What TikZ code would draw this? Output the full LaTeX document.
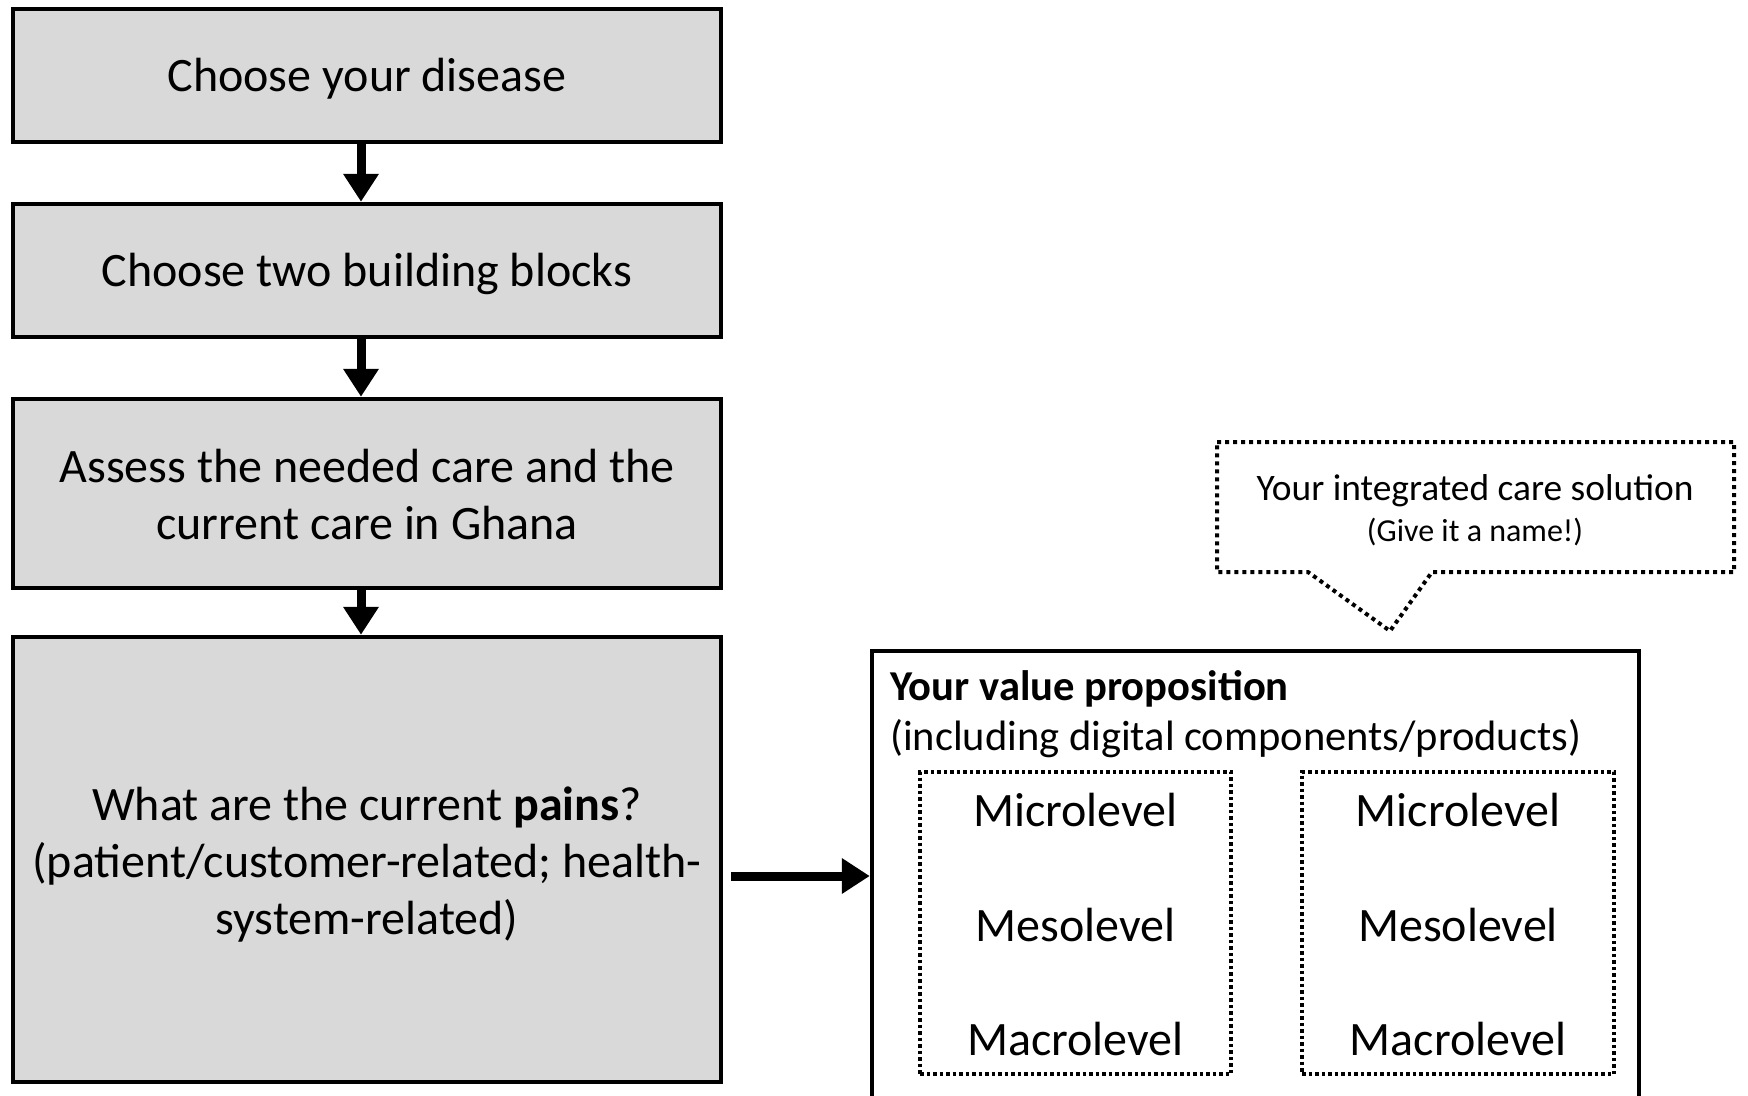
\documentclass[tikz,border=0pt]{standalone}
\usepackage{fontspec}
\setmainfont{Carlito}
\usetikzlibrary{arrows.meta}
\definecolor{boxgray}{HTML}{D9D9D9}
\tikzset{
  stepbox/.style={draw=black, line width=4.5pt, fill=boxgray, inner sep=0pt, minimum width=708pt},
  steptext/.style={inner sep=0pt, align=center, font=\fontsize{48}{57}\selectfont},
  bigarrow/.style={line width=9pt, -{Triangle[length=28pt,width=34pt]}},
  dotbox/.style={draw=black, line width=4pt, dash pattern=on 3.5pt off 3pt, inner sep=0pt},
  lvl/.style={font=\fontsize{48}{57}\selectfont, inner sep=0pt},
}
\begin{document}
\begin{tikzpicture}[x=1pt,y=-1pt]
\clip (0,0) rectangle (1748,1095);
\fill[white] (0,0) rectangle (1748,1095);
% left column boxes
\node[stepbox, minimum height=133pt] (b1) at (367,75.5) {};
\node[stepbox, minimum height=133pt] (b2) at (367,270.5) {};
\node[stepbox, minimum height=189pt] (b3) at (367,493.5) {};
\node[stepbox, minimum height=445pt] (b4) at (367,859.5) {};
\node[steptext] (t1) at ([yshift=-3.5pt]b1.center) {Choose your disease};
\node[steptext] (t2) at ([yshift=-3.5pt]b2.center) {Choose two building blocks};
\node[steptext] (t3) at ([yshift=-1pt]b3.center) {Assess the needed care and the\\current care in Ghana};
\node[steptext] (t4) at ([yshift=-5.5pt]b4.center) {What are the current \textbf{pains}?\\(patient/customer-related; health-\\system-related)};
\draw[bigarrow] ([xshift=-6pt]b1.south) -- ([xshift=-6pt]b2.north);
\draw[bigarrow] ([xshift=-6pt]b2.south) -- ([xshift=-6pt]b3.north);
\draw[bigarrow] ([xshift=-6pt]b3.south) -- ([xshift=-6pt]b4.north);
% value proposition box
\node[draw=black, line width=4.5pt, fill=white, minimum width=767pt, minimum height=450pt, inner sep=0pt] (vp) at (1255.5,876) {};
\draw[bigarrow] ([xshift=8pt]b4.east |- vp.west) -- (vp.west);
\node[anchor=west, inner sep=0pt, font=\fontsize{42.6}{50}\selectfont\bfseries] (vpt) at (890,689) {Your value proposition};
\node[anchor=west, inner sep=0pt, font=\fontsize{42.5}{50}\selectfont] (vps) at (890,739) {(including digital components/products)};
\node[dotbox, minimum width=311pt, minimum height=302pt] (c1) at (1075.5,923) {};
\node[dotbox, minimum width=312pt, minimum height=302pt] (c2) at (1458,923) {};
\node[lvl] (m1) at (c1 |- 0,810) {Microlevel};
\node[lvl] (e1) at (c1 |- 0,925) {Mesolevel};
\node[lvl] (a1) at (c1 |- 0,1039) {Macrolevel};
\node[lvl] (m2) at (c2 |- 0,810) {Microlevel};
\node[lvl] (e2) at (c2 |- 0,925) {Mesolevel};
\node[lvl] (a2) at (c2 |- 0,1039) {Macrolevel};
% callout
\draw[line width=4pt, dash pattern=on 4pt off 4pt]
  (1217,442) -- (1734,442) -- (1734,572) -- (1432,572) -- (1390,631) -- (1308,572) -- (1217,572) -- cycle;
\node[inner sep=0pt, font=\fontsize{37.4}{44}\selectfont] (ct) at (1475,491) {Your integrated care solution};
\node[inner sep=0pt, font=\fontsize{32}{38}\selectfont] (cs) at (1475,532) {(Give it a name!)};
\end{tikzpicture}
\end{document}
